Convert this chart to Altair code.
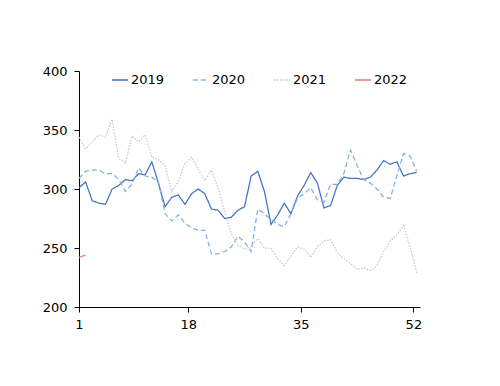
import altair as alt
import pandas as pd

weeks = list(range(1, 53))
series_names = ["2019", "2020", "2021", "2022"]

y2019 = [301, 306, 290, 288, 287, 300, 303, 308, 307, 313, 312, 323, 305, 285, 293,
         295, 287, 296, 300, 296, 283, 282, 275, 276, 282, 285, 311, 315, 298, 270,
         278, 288, 279, 294, 303, 314, 305, 284, 286, 303, 310, 309, 309, 308, 310,
         316, 324, 321, 323, 311, 313, 314]
y2020 = [309, 315, 316, 316, 313, 313, 308, 298, 304, 318, 311, 310, 306, 279, 273,
         278, 271, 267, 265, 265, 245, 245, 247, 251, 260, 255, 247, 283, 279, 274,
         270, 268, 279, 292, 296, 301, 291, 289, 304, 304, 313, 333, 320, 308, 305,
         300, 293, 292, 311, 330, 328, 315]
y2021 = [344, 334, 340, 346, 344, 359, 326, 322, 345, 340, 346, 327, 325, 320, 298,
         306, 322, 327, 317, 307, 316, 301, 281, 262, 252, 249, 251, 258, 250, 250,
         241, 235, 243, 251, 249, 242, 251, 256, 257, 246, 241, 237, 232, 233, 231,
         235, 247, 256, 261, 269, 251, 229]
y2022 = [242, 244]

colors = ["#4472C4", "#7EB0E6", "#C8C8C8", "#E07A7A"]
dashes = [[1, 0], [5, 3], [1.5, 1.5], [1, 0]]

y_ticks = [200, 250, 300, 350, 400]
x_label_weeks = [1, 18, 35, 52]
x_tick_pos = [1] + [w - 0.5 for w in x_label_weeks[1:]]

rows = []
for name, vals in zip(series_names, [y2019, y2020, y2021, y2022]):
    for w, v in zip(weeks, vals):
        rows.append({"week": w, "value": v, "year": name})
df = pd.DataFrame(rows)

chart = alt.Chart(df).mark_line(strokeWidth=1.25).encode(
    x=alt.X("week:Q",
            scale=alt.Scale(domain=[1, 52.5], nice=False, zero=False),
            axis=alt.Axis(values=x_tick_pos, title=None, grid=False,
                          labelExpr="datum.value < 2 ? '1' : format(datum.value + 0.5, 'd')",
                          tickSize=5, labelPadding=6, labelFlush=False)),
    y=alt.Y("value:Q",
            scale=alt.Scale(domain=[200, 400], nice=False, zero=False),
            axis=alt.Axis(values=y_ticks, title=None, grid=False,
                          tickSize=5, labelPadding=7)),
    color=alt.Color("year:N",
                    scale=alt.Scale(domain=series_names, range=colors),
                    legend=alt.Legend(orient="none", legendX=32, legendY=0,
                                      direction="horizontal", title=None,
                                      symbolType="stroke", symbolSize=256,
                                      symbolStrokeWidth=1.3, labelFontSize=13,
                                      labelOffset=2, columnPadding=25, padding=0)),
    strokeDash=alt.StrokeDash("year:N",
                              scale=alt.Scale(domain=series_names, range=dashes),
                              legend=alt.Legend(orient="none", legendX=32, legendY=0,
                                                direction="horizontal", title=None,
                                                symbolType="stroke", symbolSize=256,
                                                symbolStrokeWidth=1.3, labelFontSize=13,
                                                labelOffset=2, columnPadding=25, padding=0)),
    detail="year:N",
).properties(
    width=341,
    height=236,
    autosize=alt.AutoSizeParams(type="none"),
    padding={"left": 71, "top": 63, "right": 72, "bottom": 64},
).configure_view(
    stroke=None
).configure_axis(
    domainColor="#000000",
    tickColor="#000000",
    labelColor="#000000",
    labelFont="DejaVu Sans",
    labelFontSize=13,
    domainWidth=1,
).configure_legend(
    labelFont="DejaVu Sans",
    labelColor="#000000",
)

chart.save("out.html", embed_options={"renderer": "svg", "actions": False})
